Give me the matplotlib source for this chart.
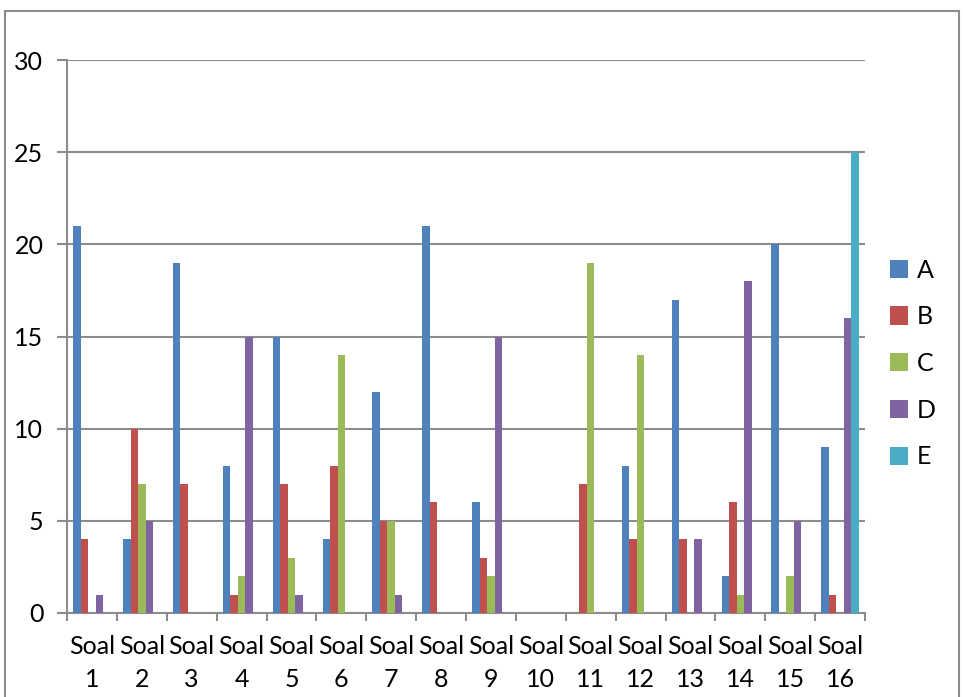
import matplotlib
matplotlib.use("Agg")
import matplotlib.pyplot as plt
import numpy as np
from matplotlib.patches import Rectangle, Patch

categories = [f"Soal\n{i}" for i in range(1, 17)]
series_names = ["A", "B", "C", "D", "E"]
A = [21, 4, 19, 8, 15, 4, 12, 21, 6, 0, 0, 8, 17, 2, 20, 9]
B = [4, 10, 7, 1, 7, 8, 5, 6, 3, 0, 7, 4, 4, 6, 0, 1]
C = [0, 7, 0, 2, 3, 14, 5, 0, 2, 0, 19, 14, 0, 1, 2, 0]
D = [1, 5, 0, 15, 1, 0, 1, 0, 15, 0, 0, 0, 4, 18, 5, 16]
E = [0, 0, 0, 0, 0, 0, 0, 0, 0, 0, 0, 0, 0, 0, 0, 25]
colors = ["#4F81BD", "#C0504D", "#9BBB59", "#8064A2", "#4BACC6"]

plt.rcParams['font.family'] = ['Lato', 'DejaVu Sans']

fig = plt.figure(figsize=(9.65, 6.97), dpi=100)
ax = fig.add_axes([67/965, 1-613/697, (865-67)/965, (613-60)/697])

x = np.arange(len(categories))
w = 0.15
data = [A, B, C, D, E]
for i, (vals, c) in enumerate(zip(data, colors)):
    ax.bar(x - 0.375 + w/2 + i*w, vals, width=w, color=c, zorder=3)

ax.set_xlim(-0.5, len(categories) - 0.5)
ax.set_ylim(0, 30)
ax.set_yticks(range(0, 31, 5))
ax.yaxis.grid(True, color="#8c8c8c", linewidth=1.5, zorder=0)
ax.tick_params(axis='y', length=7, width=1.5, color="#8c8c8c", pad=10, labelsize=18)
ax.set_xticks(x)
ax.set_xticklabels(categories, fontsize=18, linespacing=1.5)
ax.tick_params(axis='x', which='major', length=0, pad=16)
ax.set_xticks(np.arange(-0.5, len(categories), 1), minor=True)
ax.tick_params(axis='x', which='minor', length=6, width=1.5, color="#8c8c8c")
for s in ['top', 'right']:
    ax.spines[s].set_visible(False)
for s in ['left', 'bottom']:
    ax.spines[s].set_color("#8c8c8c")
    ax.spines[s].set_linewidth(1.5)

handles = [Patch(facecolor=c, label=n) for c, n in zip(colors, series_names)]
fig.legend(handles=handles, loc='upper left', bbox_to_anchor=(867/965, 1-236/697),
           frameon=False, fontsize=18, handlelength=0.75, handleheight=0.75,
           labelspacing=0.95, handletextpad=0.35)

fig.patches.append(Rectangle((5/965, -0.1), 954/965, (697-11)/697 + 0.1,
                             transform=fig.transFigure, fill=False,
                             edgecolor="#8c8c8c", linewidth=1.5))

fig.savefig("out.png", dpi=100)
